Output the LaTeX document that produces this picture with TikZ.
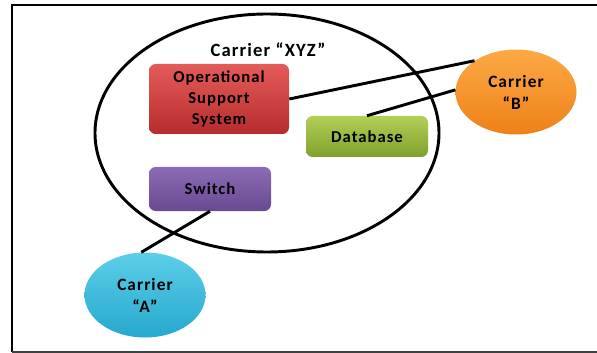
\documentclass[tikz,border=0pt]{standalone}
\usepackage{fontspec}
\setmainfont{Carlito}[LetterSpace=6]
\usetikzlibrary{shapes.geometric,positioning,calc}
\definecolor{ossTop}{RGB}{228,92,90}
\definecolor{ossBot}{RGB}{182,44,44}
\definecolor{swTop}{RGB}{140,108,180}
\definecolor{swBot}{RGB}{104,74,146}
\definecolor{dbTop}{RGB}{178,208,86}
\definecolor{dbBot}{RGB}{128,160,46}
\definecolor{cbTop}{RGB}{252,170,70}
\definecolor{cbBot}{RGB}{238,128,24}
\definecolor{caTop}{RGB}{92,206,232}
\definecolor{caBot}{RGB}{38,168,206}
\tikzset{
        box/.style = {rounded corners=5pt, inner sep=0pt, align=center,
                      font=\bfseries\fontsize{12.5}{15.75}\selectfont},
        carrier/.style = {ellipse, inner sep=0pt, align=center, minimum width=90.75pt,
                      minimum height=63.75pt, font=\bfseries\fontsize{13}{16.5}\selectfont},
        link/.style = {draw, line width=2.2pt}}

\begin{document}
\begin{tikzpicture}[x=0.75pt,y=-0.75pt]
    \useasboundingbox (0,0) rectangle (597,353);
    % frame
    \draw[line width=2.2pt] (597,5) -- (12,5) -- (12,352);
    \draw[line width=1.1pt, black!75] (12,352) -- (597,352);

    % carrier XYZ
    \draw[line width=2.2pt] (267,133) ellipse [x radius=172, y radius=119];
    \node[font=\bfseries\fontsize{14}{16}\selectfont] (xyz) at (268,50) {Carrier “XYZ”};

    \node [box, top color=ossTop, bottom color=ossBot, minimum width=105pt, minimum height=52.5pt] (oss) at (219,99) {Operational\\Support\\System};
    \node [box, top color=dbTop, bottom color=dbBot, minimum width=91.5pt, minimum height=30.75pt] (db) at (367,136.5) {Database};
    \node [box, top color=swTop, bottom color=swBot, minimum width=91.5pt, minimum height=33pt] (sw) at (210,189) {Switch};

    \node [carrier, top color=cbTop, bottom color=cbBot] (cb) at (516,92) {Carrier\\“B”};
    \node [carrier, top color=caTop, bottom color=caBot] (ca) at (145,295) {Carrier\\“A”};

    \begin{scope}[link]
    \draw (oss.east) -- (cb.143);
    \draw (db.north) -- (cb.178);
    \draw (sw.south) -- (ca.95);
    \end{scope}
\end{tikzpicture}
\end{document}
